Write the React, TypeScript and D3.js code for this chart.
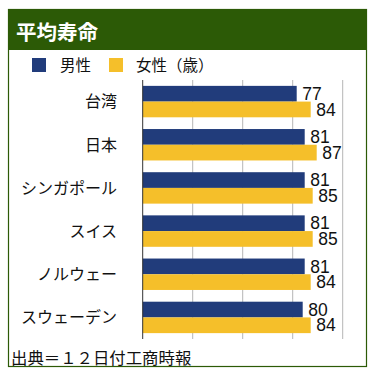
import React from 'react';
import * as d3 from 'd3';

const categories = ['台湾', '日本', 'シンガポール', 'スイス', 'ノルウェー', 'スウェーデン'];
const seriesNames = ['男性', '女性（歳）'];
const maleValues = [77, 81, 81, 81, 81, 80];
const femaleValues = [84, 87, 85, 85, 84, 84];
const gridTicks = [25, 50, 75, 100];
const title = '平均寿命';
const source = '出典＝１２日付工商時報';

const W = 377;
const H = 376;
const GREEN = '#2c5a06';
const BLUE = '#213c7b';
const YELLOW = '#f5bf2a';
const CJK = '"Noto Sans CJK JP", "Noto Sans", sans-serif';
const NUM = '"Liberation Sans", Arial, sans-serif';

export default function App() {
  const plotTop = 80;
  const plotBottom = 339;
  const x = d3.scaleLinear().domain([0, 100]).range([142.7, 342.7]);
  const y = d3
    .scaleBand<string>()
    .domain(categories)
    .range([plotTop, plotBottom])
    .paddingInner(0.272)
    .paddingOuter(0.136);
  const sub = d3.scaleBand<string>().domain(['m', 'f']).range([0, y.bandwidth()]);
  const series = [
    { key: 'm', values: maleValues, color: BLUE },
    { key: 'f', values: femaleValues, color: YELLOW },
  ];

  return (
    <svg width={W} height={H} style={{ position: 'absolute', left: 0, top: 0, background: '#fff' }}>
      <rect x={8.5} y={9.5} width={358} height={357} fill="#fff" stroke={GREEN} strokeWidth={1.2} />
      <rect x={8} y={9} width={359} height={41} fill={GREEN} />
      <text x={16} y={40} fill="#fff" fontFamily={CJK} fontWeight="bold" fontSize={20.5}>
        {title}
      </text>

      {/* legend */}
      <rect x={32} y={58} width={14} height={14} fill={BLUE} />
      <text x={60} y={71} fontFamily={CJK} fontSize={15.5} fill="#111">
        {seriesNames[0]}
      </text>
      <rect x={109} y={58} width={14} height={14} fill={YELLOW} />
      <text x={136} y={71} fontFamily={CJK} fontSize={15.5} fill="#111">
        {seriesNames[1]}
      </text>

      {/* gridlines */}
      {gridTicks.map((t) => (
        <line key={t} x1={x(t)} x2={x(t)} y1={plotTop} y2={plotBottom} stroke="#b5b5b5" strokeWidth={1} />
      ))}

      {/* bars */}
      {series.map((s) =>
        categories.map((c, i) => {
          const y0 = (y(c) as number) + (sub(s.key) as number);
          return (
            <rect
              key={s.key + c}
              x={x(0)}
              y={y0}
              width={x(s.values[i]) - x(0)}
              height={sub.bandwidth()}
              fill={s.color}
            />
          );
        })
      )}

      {/* axis line */}
      <line x1={x(0)} x2={x(0)} y1={plotTop} y2={plotBottom} stroke="#333" strokeWidth={1} />

      {/* value labels */}
      {series.map((s) =>
        categories.map((c, i) => {
          const y0 = (y(c) as number) + (sub(s.key) as number);
          return (
            <text
              key={'l' + s.key + c}
              x={x(s.values[i]) + 5.5}
              y={y0 + sub.bandwidth() - 1.7}
              fontFamily={NUM}
              fontSize={17.5}
              fill="#111"
            >
              {s.values[i]}
            </text>
          );
        })
      )}

      {/* category labels */}
      {categories.map((c) => (
        <text
          key={'c' + c}
          x={117}
          y={(y(c) as number) + y.bandwidth() / 2}
          dy="0.36em"
          textAnchor="end"
          fontFamily={CJK}
          fontSize={16}
          fill="#111"
        >
          {c}
        </text>
      ))}

      <text x={11} y={363.5} fontFamily={CJK} fontSize={16.4} fill="#111">
        {source}
      </text>
    </svg>
  );
}
